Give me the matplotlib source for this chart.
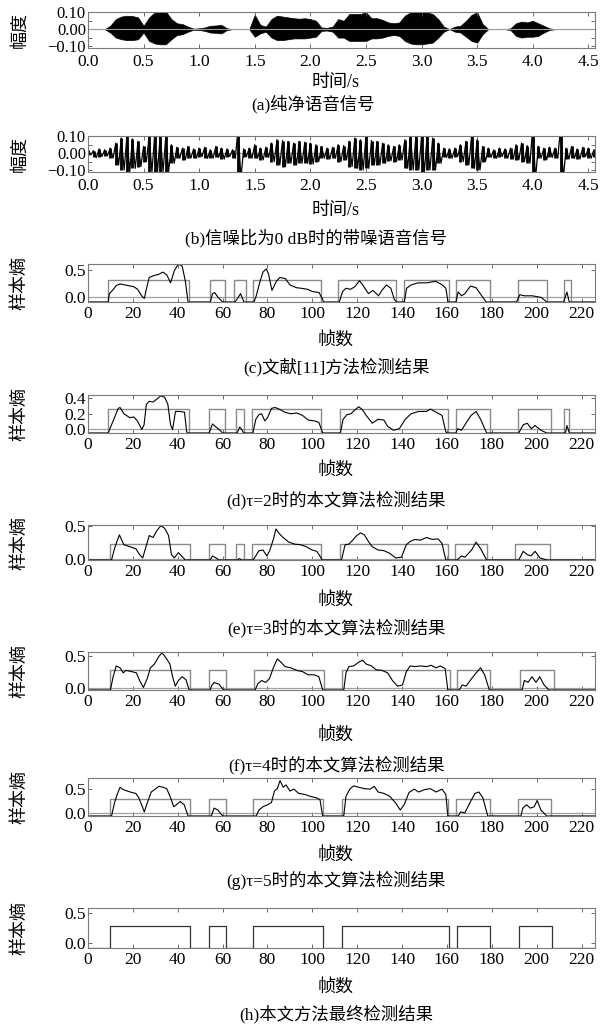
import numpy as np
import matplotlib.pyplot as plt
from matplotlib.ticker import MultipleLocator

plt.rcParams['font.family'] = ['Liberation Serif', 'Noto Sans CJK SC']

# --- waveform envelopes, sampled every 0.05 s (0.00 ... 4.55) ---
t = np.round(np.arange(0, 4.551, 0.05), 2)

a_hi = [0, 0, 0, 0, 0.02, 0.06, 0.075, 0.08, 0.078, 0.07,
        0.02, 0.07, 0.10, 0.105, 0.105, 0.06, 0.035, 0.03, 0.015, 0.003,
        0.005, 0.01, 0.02, 0.022, 0.025, 0.005, 0, 0, 0, 0,
        0.085, 0.025, 0.015, 0.06, 0.08, 0.075, 0.07, 0.065, 0.062, 0.065,
        0.06, 0.05, 0.01, 0.008, 0.015, 0.06, 0.05, 0.09, 0.09, 0.09,
        0.1, 0.065, 0.065, 0.055, 0.04, 0.035, 0.04, 0.08, 0.1, 0.105,
        0.1, 0.1, 0.09, 0.06, 0.015, 0, 0.015, 0.02, 0.05, 0.085,
        0.1, 0.03, 0, 0, 0, 0, 0.005, 0.035, 0.045, 0.04,
        0.05, 0.035, 0.02, 0.005, 0, 0, 0, 0, 0, 0,
        0, 0]
a_lo = [0, 0, 0, 0, -0.02, -0.05, -0.06, -0.065, -0.065, -0.06,
        -0.02, -0.07, -0.085, -0.09, -0.09, -0.06, -0.035, -0.03, -0.015, -0.003,
        -0.005, -0.01, -0.02, -0.022, -0.025, -0.005, 0, 0, 0, 0,
        -0.045, -0.025, -0.015, -0.05, -0.065, -0.065, -0.06, -0.055, -0.055, -0.055,
        -0.05, -0.045, -0.01, -0.008, -0.015, -0.05, -0.05, -0.07, -0.07, -0.07,
        -0.07, -0.055, -0.055, -0.05, -0.04, -0.035, -0.04, -0.07, -0.085, -0.09,
        -0.09, -0.085, -0.08, -0.05, -0.015, 0, -0.015, -0.02, -0.045, -0.07,
        -0.08, -0.03, 0, 0, 0, 0, -0.005, -0.04, -0.05, -0.045,
        -0.045, -0.04, -0.02, -0.005, 0, 0, 0, 0, 0, 0,
        0, 0]

b_hi = [0.02, 0.015, 0.025, 0.02, 0.03, 0.06, 0.09, 0.1, 0.085, 0.07,
        0.04, 0.1, 0.11, 0.11, 0.1, 0.05, 0.035, 0.03, 0.04, 0.025,
        0.03, 0.035, 0.02, 0.04, 0.03, 0.025, 0.02, 0.15, 0.025, 0.03,
        0.05, 0.03, 0.035, 0.06, 0.08, 0.075, 0.07, 0.06, 0.07, 0.065,
        0.06, 0.05, 0.04, 0.03, 0.035, 0.05, 0.045, 0.07, 0.09, 0.08,
        0.1, 0.075, 0.07, 0.06, 0.05, 0.04, 0.05, 0.08, 0.1, 0.11,
        0.1, 0.1, 0.09, 0.06, 0.03, 0.025, 0.03, 0.05, 0.07, 0.1,
        0.08, 0.04, 0.03, 0.02, 0.03, 0.025, 0.03, 0.05, 0.06, 0.045,
        0.15, 0.04, 0.03, 0.035, 0.03, 0.15, 0.03, 0.04, 0.025, 0.035,
        0.03, 0.02]
b_lo = [-0.01, -0.025, -0.02, -0.015, -0.03, -0.07, -0.1, -0.11, -0.09, -0.08,
        -0.05, -0.11, -0.11, -0.11, -0.11, -0.06, -0.03, -0.04, -0.03, -0.03,
        -0.02, -0.03, -0.03, -0.025, -0.035, -0.02, -0.03, -0.15, -0.02, -0.03,
        -0.03, -0.04, -0.025, -0.05, -0.07, -0.08, -0.06, -0.07, -0.06, -0.06,
        -0.065, -0.05, -0.03, -0.035, -0.03, -0.05, -0.04, -0.08, -0.09, -0.1,
        -0.09, -0.07, -0.07, -0.06, -0.045, -0.05, -0.04, -0.09, -0.1, -0.1,
        -0.11, -0.1, -0.1, -0.06, -0.025, -0.03, -0.02, -0.05, -0.07, -0.09,
        -0.1, -0.05, -0.025, -0.03, -0.02, -0.03, -0.035, -0.04, -0.05, -0.06,
        -0.15, -0.03, -0.04, -0.025, -0.03, -0.15, -0.035, -0.03, -0.035, -0.02,
        -0.03, -0.025]

time_ticks = [0, 0.5, 1.0, 1.5, 2.0, 2.5, 3.0, 3.5, 4.0, 4.5]
frame_ticks = [0, 20, 40, 60, 80, 100, 120, 140, 160, 180, 200, 220]

# --- sample entropy curves (frame, value) and detection segments ---
FC, FD, FE, FF, FG, FH = -0.085, -0.045, -0.012, -0.03, -0.066, -0.094

c_curve = [(0, FC), (9, FC), (9.5, 0.07), (10.9, 0.13), (12.6, 0.22), (14.3, 0.25), (17.8, 0.22),
           (20.4, 0.2), (22.1, 0.15), (23.9, 0.03), (25.1, -0.02), (26.1, 0.17), (27.3, 0.37),
           (29, 0.4), (31.6, 0.43), (33.4, 0.47), (35.1, 0.42), (36.8, 0.27), (38.5, 0.5),
           (40.3, 0.62), (42, 0.58), (43.4, 0.3), (44.6, FC),
           (54.5, FC), (55.5, 0.07), (56.5, 0.09), (58, 0.0), (60, FC),
           (65.5, FC), (66.5, -0.03), (68, 0.07), (69.5, FC),
           (74, FC), (75, 0.03), (76.5, 0.27), (78, 0.47), (79.5, 0.53), (80.5, 0.43), (82, 0.13),
           (84, 0.3), (85.5, 0.37), (88, 0.35), (90, 0.23), (93, 0.18), (95, 0.17), (98, 0.15),
           (100, 0.11), (103, 0.09), (104.5, -0.03), (105, FC),
           (112, FC), (113.5, 0.11), (115, 0.17), (117, 0.15), (119, 0.2), (121, 0.31), (122.5, 0.23),
           (125, 0.07), (127, 0.13), (129.5, 0.03), (131, 0.13), (133, 0.23), (135, 0.17),
           (136.5, -0.03), (137.5, FC),
           (141, FC), (142, 0.17), (144, 0.23), (147, 0.27), (151, 0.27), (155, 0.3), (158, 0.23),
           (159.5, 0.17), (160.5, FC),
           (164, FC), (165, 0.1), (166.5, 0.03), (168, 0.07), (170.5, 0.21), (173, 0.18),
           (175.5, 0.03), (177.5, FC),
           (191, FC), (192.5, 0.05), (194.5, 0.03), (198, 0.03), (202, 0.0), (204.5, FC),
           (212, FC), (213.5, 0.1), (214.5, FC), (226, FC)]

d_curve = [(0, FD), (9, FD), (9.5, -0.01), (11.2, 0.11), (13.5, 0.27), (14.3, 0.28), (16, 0.2),
           (18.7, 0.15), (20.4, 0.16), (22, 0.11), (24, 0.0), (25, 0.06), (26, 0.32), (27.3, 0.36),
           (29, 0.35), (30.8, 0.39), (32.5, 0.43), (34.2, 0.41), (35.6, 0.32), (36.8, 0.06),
           (37.7, 0.0), (39, 0.23), (41, 0.23), (43, 0.22), (44, -0.03), (44.5, FD),
           (54, FD), (55.5, 0.07), (56.7, 0.04), (58.5, 0.0), (60, FD),
           (66.5, FD), (67.6, 0.03), (68.8, -0.01), (69.3, FD),
           (73.5, FD), (74.8, 0.13), (76.2, 0.19), (77.4, 0.2), (78.8, 0.11), (80, 0.15), (81.8, 0.27),
           (83.5, 0.28), (85.2, 0.26), (87.8, 0.22), (90.4, 0.2), (93, 0.21), (95.6, 0.18),
           (98.2, 0.12), (100.8, 0.11), (102.9, 0.09), (104.2, -0.01), (104.6, FD),
           (112.5, FD), (113.7, 0.13), (115.5, 0.19), (117.2, 0.2), (119, 0.25), (120.7, 0.29),
           (122.4, 0.25), (124, 0.18), (126.7, 0.08), (129.3, 0.13), (131.9, 0.12), (133.6, 0.04),
           (136.2, -0.01), (138.8, 0.01), (141.4, 0.13), (144, 0.2), (147.4, 0.23), (150.9, 0.23),
           (152.6, 0.26), (155.2, 0.22), (157.8, 0.18), (159.5, -0.03), (160, FD),
           (164, FD), (164.7, 0.01), (166.5, -0.01), (168, 0.06), (170.8, 0.18), (173, 0.23),
           (175, 0.13), (177.7, FD),
           (192, FD), (194, 0.06), (195.8, 0.08), (197.6, 0.01), (199.3, 0.05), (201.9, -0.01),
           (204.5, FD),
           (212.8, FD), (213.5, 0.05), (214.6, FD), (226, FD)]

e_curve = [(0, FE), (10.5, FE), (11.8, 0.16), (13, 0.28), (14, 0.37), (16, 0.22), (18.7, 0.19),
           (21.3, 0.16), (23, 0.07), (24.4, 0.02), (26.1, 0.22), (27.3, 0.36), (29, 0.33),
           (30.8, 0.44), (32.5, 0.51), (34.2, 0.47), (35.9, 0.36), (37.2, 0.07), (38.5, 0.02),
           (40.3, 0.10), (41.7, 0.05), (43.4, FE),
           (54.5, FE), (55.5, 0.05), (57, 0.02), (58.5, FE),
           (66.5, FE), (67.5, 0.01), (68.5, FE),
           (73.5, FE), (74.8, 0.05), (76.2, 0.13), (78, 0.14), (79.7, 0.05), (81, 0.13), (82.6, 0.3),
           (83.8, 0.46), (85.2, 0.39), (87, 0.33), (89.5, 0.26), (92, 0.23), (94.7, 0.22),
           (97.3, 0.19), (99.9, 0.14), (102, 0.12), (103.9, 0.02), (104.3, FE),
           (113, FE), (114.6, 0.22), (116.3, 0.23), (118, 0.29), (119.8, 0.36), (121.5, 0.4),
           (123.2, 0.37), (125, 0.27), (126.7, 0.19), (129.3, 0.14), (131.9, 0.13), (134.5, 0.09),
           (137.1, 0.02), (139.7, 0.03), (141.9, 0.22), (143.6, 0.27), (145.7, 0.3), (148.3, 0.29),
           (150.9, 0.33), (153.5, 0.3), (156, 0.31), (157.8, 0.24), (159.5, FE),
           (164.5, FE), (166.5, 0.05), (168, 0.03), (171, 0.14), (173, 0.26), (175, 0.16),
           (177.7, FE),
           (192, FE), (194, 0.12), (195.8, 0.07), (197.5, 0.05), (199.3, 0.12), (201.4, 0.02),
           (204.5, FE), (226, FE)]

f_curve = [(0, FF), (10, FF), (11.2, 0.18), (12.6, 0.35), (14.3, 0.32), (15.7, 0.24), (16.9, 0.28),
           (19.5, 0.26), (21.6, 0.24), (23, 0.12), (24.7, 0.01), (26.4, 0.15), (27.8, 0.32),
           (29.6, 0.38), (31.6, 0.5), (33, 0.56), (34.7, 0.48), (36.5, 0.38), (37.7, 0.18),
           (38.9, 0.03), (40.3, 0.12), (42, 0.18), (43.7, 0.13), (45.1, FF),
           (54.5, FF), (55, 0.03), (56.2, 0.09), (58.4, 0.06), (60.5, FF),
           (74.5, FF), (75.7, 0.07), (77.4, 0.12), (79.2, 0.09), (80.9, 0.15), (82.6, 0.32),
           (84.4, 0.46), (86, 0.41), (87.8, 0.34), (90.4, 0.32), (93, 0.28), (95.6, 0.26),
           (98.2, 0.21), (100.8, 0.21), (102.9, 0.18), (104.6, FF),
           (114, FF), (115, 0.24), (116.3, 0.34), (118.4, 0.35), (120.7, 0.41), (122.4, 0.44),
           (124, 0.38), (126.4, 0.35), (128.4, 0.29), (131, 0.28), (133.6, 0.24), (135.7, 0.12),
           (138, 0.03), (140.2, 0.05), (141.9, 0.26), (143.6, 0.35), (145.7, 0.34), (148.3, 0.35),
           (150.9, 0.34), (153, 0.36), (155.2, 0.32), (157, 0.35), (159.2, 0.31), (160.4, FF),
           (165.5, FF), (166.8, 0.05), (168.5, 0.03), (171, 0.15), (173, 0.24), (175, 0.32),
           (176.8, 0.21), (178.9, FF),
           (193.5, FF), (194.5, 0.12), (196.2, 0.09), (197.9, 0.18), (199.7, 0.09), (201.4, 0.18),
           (203.1, 0.06), (205.4, FF), (226, FF)]

g_curve = [(0, FG), (10.5, FG), (11.8, 0.21), (13, 0.39), (14.3, 0.54), (15.7, 0.49), (17.5, 0.46),
           (19.5, 0.43), (21.3, 0.41), (22.6, 0.32), (23.9, 0.17), (25.1, 0.02), (26.4, 0.21),
           (28.2, 0.44), (29.9, 0.5), (31.6, 0.56), (33.4, 0.54), (35.1, 0.51), (36.8, 0.32),
           (38.2, 0.13), (39.4, 0.17), (41.1, 0.24), (42.9, 0.17), (44.6, FG),
           (55, FG), (56.2, 0.1), (57.9, 0.06), (60, FG),
           (75, FG), (76.2, 0.06), (78, 0.13), (80, 0.17), (81.8, 0.22), (83.1, 0.46), (84.4, 0.51),
           (85.6, 0.68), (87, 0.54), (88.3, 0.59), (90, 0.46), (91.8, 0.5), (93.9, 0.41),
           (96.5, 0.39), (99, 0.35), (101.6, 0.32), (103.4, 0.28), (104.6, FG),
           (114, FG), (115, 0.35), (116.7, 0.5), (118.4, 0.57), (120.7, 0.54), (123.2, 0.51),
           (125.8, 0.5), (127.6, 0.56), (129.3, 0.44), (131.9, 0.41), (134.5, 0.35), (137.1, 0.21),
           (139.2, 0.06), (140.9, 0.17), (143.1, 0.43), (145.4, 0.5), (147.4, 0.44), (150, 0.49),
           (152.6, 0.51), (155.2, 0.44), (157.8, 0.5), (159.5, 0.39), (160.4, FG),
           (165, FG), (166.1, 0.02), (168, 0.0), (170.3, 0.22), (172.5, 0.41), (174.2, 0.44),
           (176, 0.32), (178.2, FG),
           (193, FG), (193.8, 0.1), (195.5, 0.17), (197.2, 0.1), (198.9, 0.13), (200.2, 0.26),
           (201.9, 0.06), (204.5, FG), (226, FG)]

c_segments = [(9, 45), (54.5, 61), (65, 70.5), (73.5, 104), (111.5, 137.5), (141, 161),
              (164, 179), (191.5, 204.5), (212, 215.5)]
d_segments = [(9, 45), (54, 61), (66, 69.5), (73, 104), (112.5, 160.5), (164, 179),
              (191.5, 206.5), (212, 214.5)]
e_segments = [(9.7, 45.5), (54, 61), (66, 69.5), (73, 104), (112.5, 160.5), (163.5, 178),
              (190.5, 206)]
f_segments = [(9.7, 45.5), (54, 61.4), (74, 105), (113, 161.3), (164.7, 179.4), (192.4, 207.6)]
g_segments = [(10, 45.5), (54, 61.4), (73.6, 104.6), (113, 160.4), (164, 179), (191.5, 206.6)]
h_segments = [(9.7, 45.5), (54, 61.4), (73.6, 104.6), (113.2, 161), (164.4, 179), (192, 207)]

W, H = 606, 1024
fig = plt.figure(figsize=(W / 100, H / 100), dpi=100)
fig.patch.set_facecolor('white')

LEFT, RIGHT = 88, 595
FS = 12.5


def add_ax(top, bottom, xpad=3):
    ax = fig.add_axes([LEFT / W, 1 - bottom / H, (RIGHT - LEFT) / W, (bottom - top) / H])
    for s in ax.spines.values():
        s.set_color('#7a7a7a')
        s.set_linewidth(0.8)
    ax.tick_params(which='both', direction='in', top=True, right=True, length=3, width=0.6,
                   color='#555555', labelsize=FS)
    ax.tick_params(axis='y', pad=1.5)
    ax.tick_params(axis='x', pad=xpad)
    return ax


def texts(ylab, ycen, xlab, xlab_y, cap, cap_x, cap_y):
    fig.text(20 / W, 1 - ycen / H, ylab, rotation=90, ha='center', va='center', fontsize=13)
    fig.text(336 / W, 1 - xlab_y / H, xlab, ha='center', va='center', fontsize=13)
    fig.text(cap_x / W, 1 - cap_y / H, cap, ha='center', va='center', fontsize=12.5)


def step_xy(segs, lo, hi, xmax=226):
    xs, ys = [0], [lo]
    for s, e in segs:
        xs += [s, s, e, e]
        ys += [lo, hi, hi, lo]
    xs.append(xmax)
    ys.append(lo)
    return xs, ys


def wave_axes(ax):
    ax.set_xlim(0, 4.56)
    ax.set_ylim(-0.112, 0.102)
    ax.set_xticks(time_ticks)
    ax.set_xticklabels([f'{v:.1f}' for v in time_ticks])
    ax.set_yticks([-0.1, 0, 0.1])
    ax.set_yticklabels(['\u22120.10', '0.00', '0.10'], fontsize=12)
    ax.yaxis.set_minor_locator(MultipleLocator(0.05))


# (a) clean speech
ax = add_ax(12, 48, xpad=4.5)
ax.axhline(0, color='#9a9a9a', lw=0.8)
ax.fill_between(t, a_lo, a_hi, color='black', lw=0.5)
wave_axes(ax)
texts('幅度', 30, '时间/s', 82, '(a)纯净语音信号', 313, 104)

# (b) noisy speech
ax = add_ax(136, 172, xpad=4.5)
ax.axhline(0, color='#9a9a9a', lw=0.8)
ax.vlines(t, b_lo, b_hi, color='black', lw=2.0)
zx = np.column_stack([t, t + 0.025]).ravel()
zy = np.column_stack([b_hi, b_lo]).ravel()
ax.plot(zx, zy, color='black', lw=0.9)
wave_axes(ax)
texts('幅度', 154, '时间/s', 210, '(b)信噪比为0 dB时的带噪语音信号', 316, 238)

panels = [
    # curve, segments, floor, top, box height, yticks, top px, bottom px, xlabel y, caption, caption y
    (c_curve, c_segments, FC, 0.62, 0.32, [0, 0.5], 264, 302, 340, '(c)文献[11]方法检测结果', 367),
    (d_curve, d_segments, FD, 0.44, 0.26, [0, 0.2, 0.4], 395, 433, 470, '(d)τ=2时的本文算法检测结果', 500),
    (e_curve, e_segments, FE, 0.52, 0.233, [0, 0.5], 525, 560, 600, '(e)τ=3时的本文算法检测结果', 628),
    (f_curve, f_segments, FF, 0.57, 0.29, [0, 0.5], 652, 690, 735, '(f)τ=4时的本文算法检测结果', 765),
    (g_curve, g_segments, FG, 0.735, 0.29, [0, 0.5], 778, 816, 855, '(g)τ=5时的本文算法检测结果', 880),
    (None, h_segments, FH, 0.59, 0.28, [0, 0.5], 908, 948, 987, '(h)本文方法最终检测结果', 1014),
]

for curve, segs, floor, ytop, bh, yt, ptop, pbot, xly, cap, capy in panels:
    ax = add_ax(ptop, pbot)
    sx, sy = step_xy(segs, floor, bh)
    if curve is not None:
        ax.axhline(0, color='#a0a0a0', lw=0.9)
        ax.plot(sx, sy, color='#8a8a8a', lw=1.0)
        fx, fv = zip(*curve)
        ax.plot(fx, fv, color='black', lw=0.8)
    else:
        ax.plot(sx, sy, color='#333333', lw=0.9)
    ax.set_xlim(0, 226)
    ax.set_ylim(floor, ytop)
    ax.set_xticks(frame_ticks)
    ax.set_yticks(yt)
    ax.set_yticklabels([f'{v:.1f}' for v in yt])
    texts('样本熵', (ptop + pbot) / 2, '帧数', xly, cap, 336, capy)

fig.savefig('out.png', dpi=100, facecolor='white')
